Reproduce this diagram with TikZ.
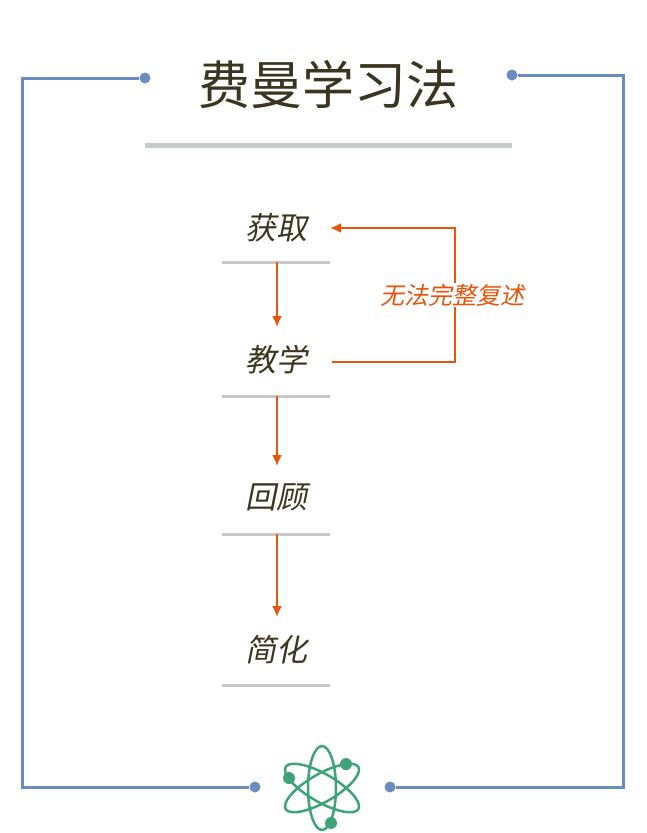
\documentclass[tikz,border=0pt]{standalone}
\usepackage{fontspec}
\usetikzlibrary{arrows.meta}
\newfontfamily\cjk{Noto Sans CJK SC}
\newfontfamily\cjkit[FakeSlant=0.2]{Noto Sans CJK SC}
\definecolor{frameblue}{HTML}{6B8CBF}
\definecolor{bargray}{HTML}{C5C9C9}
\definecolor{flow}{HTML}{E8540A}
\definecolor{atom}{HTML}{3FA37A}
\definecolor{ink}{HTML}{3A3520}
\tikzset{%
        stage/.style={
                font=\cjkit\fontsize{31}{36}\selectfont,
                text=ink,
                inner sep=2pt
            },
        frame/.style={frameblue, line width=3pt},
        dot/.style={circle, fill=frameblue, inner sep=0pt, minimum size=11pt},
        bar/.style={bargray, line width=3pt},
        flowarrow/.style={-{Latex[length=11pt,width=10pt]}, flow, line width=2pt}
    }
\begin{document}
\begin{tikzpicture}[x=1pt, y=-1pt]
    \useasboundingbox (0,0) rectangle (646,833);

    % frame:
        \node [dot] (dl) at (145,78) {};
        \node [dot] (dr) at (512,75) {};
        \node [dot] (bl) at (255,787) {};
        \node [dot] (br) at (390,787) {};
        \draw [frame] (dl) -- (22,78) -- (22,787) -- (bl);
        \draw [frame] (dr) -- (623,75) -- (623,787) -- (br);

    % title:
        \node [font=\cjk\fontsize{52}{60}\selectfont, text=ink] (title) at (328,85) {费曼学习法};
        \draw [bargray, line width=5pt] (145,145) -- (512,145);

    % stages:
        \node [stage] (s1) at (276,228) {获取};
        \node [stage] (s2) at (276,360) {教学};
        \node [stage] (s3) at (276,497) {回顾};
        \node [stage] (s4) at (276,650) {简化};
        \foreach \y in {262,396,534,685}
            \draw [bar] (222,\y) -- (330,\y);

        \coordinate (a1) at (277,262);
        \coordinate (a2) at (277,396);
        \coordinate (a3) at (277,534);
        \coordinate (b1) at (277,327);
        \coordinate (b2) at (277,466);
        \coordinate (b3) at (277,617);
        \draw [flowarrow] (a1) -- (b1);
        \draw [flowarrow] (a2) -- (b2);
        \draw [flowarrow] (a3) -- (b3);

    % loop back:
        \coordinate (l1) at (332,362);
        \coordinate (l2) at (330,228);
        \draw [flowarrow] (l1) -- (455,362) -- (455,228) -- (l2);
        \node [font=\cjkit\fontsize{24}{28}\selectfont, text=flow, fill=white, inner sep=1pt] (again) at (452,295) {无法完整复述};

    % atom:
        \begin{scope}[shift={(322,788)}, atom, line width=2.5pt]
            \draw (0,0) ellipse [x radius=14, y radius=42];
            \draw [rotate=60] (0,0) ellipse [x radius=14, y radius=42];
            \draw [rotate=-60] (0,0) ellipse [x radius=14, y radius=42];
            \fill (-33,-10) circle (6);
            \fill (24,-24) circle (6);
            \fill (9,35) circle (6);
        \end{scope}
\end{tikzpicture}
\end{document}
